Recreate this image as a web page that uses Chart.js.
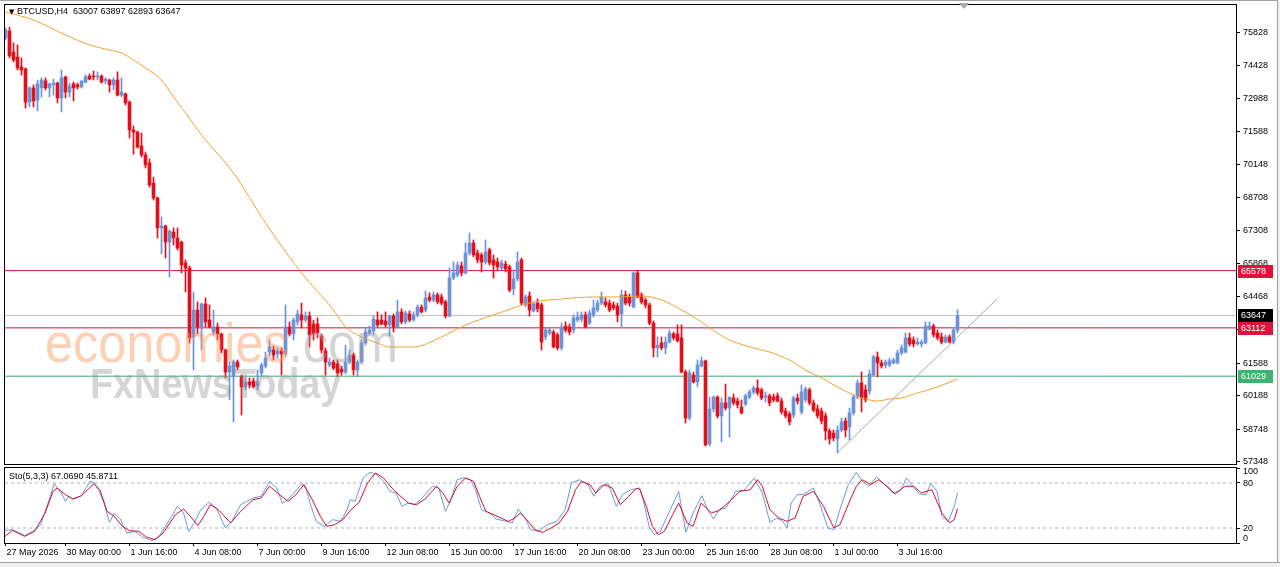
<!DOCTYPE html>
<html>
<head>
<meta charset="utf-8">
<script src="https://cdn.jsdelivr.net/npm/chart.js@4.4.0/dist/chart.umd.min.js"></script>
<style>
html, body { margin: 0; padding: 0; background: #fff; }
#wrap { position: relative; width: 1280px; height: 567px; overflow: hidden; background: #fff; font-family: "Liberation Sans", Arial, sans-serif; }
#main { position: absolute; left: 0; top: 0; z-index: 2; }
#sto { position: absolute; left: 0; top: 466px; z-index: 2; }
#title { position: absolute; left: 9px; top: 6px; font-size: 9px; color: #000; z-index: 4; white-space: pre; }
#title .tri { font-size: 7px; font-family: "DejaVu Sans", sans-serif; }
#stoLabel { position: absolute; left: 9px; top: 471px; font-size: 9px; color: #000; z-index: 4; }
#shift { position: absolute; left: 959px; top: 3px; width: 0; height: 0; border-left: 5px solid transparent; border-right: 5px solid transparent; border-top: 6px solid #a8a8a8; z-index: 4; }
.wm { position: absolute; z-index: 3; white-space: nowrap; transform-origin: left top; pointer-events: none; }
#wm1 { left: 45px; top: 315px; font-size: 56px; line-height: 56px; transform: scaleX(0.9); }
#wm1 .o { color: rgba(248, 150, 90, 0.45); }
#wm1 .g { color: rgba(160, 160, 160, 0.45); }
#wm2 { left: 90px; top: 363px; font-size: 42px; line-height: 42px; font-weight: bold; color: rgba(150, 150, 150, 0.40); transform: scaleX(0.9); }
#edgeR { position: absolute; left: 1277px; top: 0; width: 3px; height: 567px; background: #f0f0f0; border-left: 1px solid #a0a0a0; z-index: 5; }
#edgeB { position: absolute; left: 0; top: 562px; width: 1280px; height: 5px; background: #f0f0f0; border-top: 1px solid #a0a0a0; z-index: 5; }
#edgeT { position: absolute; left: 0; top: 0; width: 1280px; height: 1px; background: #a0a0a0; z-index: 5; }
</style>
</head>
<body>
<div id="wrap">
  <canvas id="main" width="1280" height="470"></canvas>
  <canvas id="sto" width="1280" height="101"></canvas>
  <div id="title"></div>
  <div id="stoLabel">Sto(5,3,3) 67.0690 45.8711</div>
  <div id="shift"></div>
  <div class="wm" id="wm1"><span class="o">economies</span><span class="g">.com</span></div>
  <div class="wm" id="wm2">FxNewsToday</div>
  <div id="edgeT"></div>
  <div id="edgeR"></div>
  <div id="edgeB"></div>
</div>
<script>
// BTCUSD H4 candles, one per bar (index 0 = 27 May 12:00)
const candleOpen = [
  75600,75900,75000,74780,74350,74270,72840,73450,72930,73450,
  73750,73450,73580,73660,73020,73920,73270,73620,73580,73490,
  73700,73960,73960,73920,73960,73750,73790,73580,73790,73140,
  73190,72840,71640,71550,70950,70560,70220,69350,68710,67420,
  67500,66810,67240,66980,66810,65910,65690,62720,63880,63150,
  64140,63450,62930,63150,62850,62160,61210,61000,61640,61000,
  60570,60780,60820,60610,61170,61470,62070,62160,61990,62120,
  61990,63150,62850,63370,63670,63450,63620,63280,63280,62760,
  62120,61510,61640,61560,61340,61210,61640,61940,61300,61640,
  62460,62890,62980,63450,63450,63410,63240,63620,63150,63800,
  63370,63710,63450,63670,64010,63880,64440,64310,64530,64440,
  64230,63620,65260,65390,65780,65480,66340,66770,66340,66250,
  65950,66470,66040,65950,65690,65860,65740,64790,65220,66040,
  64100,64490,63840,64180,64100,62720,62890,62930,62810,62250,
  63190,63150,63020,63450,63490,63670,63320,63670,63880,64180,
  64230,64180,64100,64050,63710,64530,64440,64010,65480,64530,
  64310,64100,63320,62250,62460,62250,62500,62850,62850,62680,
  61210,59230,61080,60780,61470,61690,58110,59620,60130,59320,
  59880,59660,60090,59960,59700,59830,60130,60350,60520,60440,
  60130,60180,60130,60180,59960,59530,59400,59360,60090,59490,
  60010,60440,59880,59620,59530,59320,58670,58580,58330,58710,
  59100,58840,59450,60130,60740,60440,60390,61080,61860,61600,
  61510,61510,61600,61600,62030,62070,62680,62590,62420,62420,
  62460,63060,63190,62890,62720,62500,62720,62500,63007
];
const candleHigh = [
  76030,76070,75390,75300,74740,74310,73490,73580,73790,73880,
  73880,73660,73830,73700,74220,73960,73660,73700,73660,73750,
  74010,74050,74180,74140,74010,73880,73830,73880,74140,73880,
  73230,72890,71810,71590,71510,70690,70390,69610,68750,67890,
  67540,67330,67420,67420,66850,66040,65780,64660,64230,64180,
  64400,64100,63880,63320,62890,62200,61640,61730,61730,61080,
  60950,60950,60950,61300,61600,62070,62590,62330,62250,62250,
  64100,63370,63540,63880,64180,63800,63800,63450,63540,62850,
  62250,61810,61730,61730,61470,62370,62160,62030,61730,62590,
  63110,63190,63620,63800,63670,63800,63670,63710,64310,63930,
  63840,63840,63800,64100,64100,64700,64620,64660,64620,64570,
  64310,65690,65950,65950,65950,66770,67200,66900,66470,66340,
  66900,66550,66250,66120,66040,65990,65820,65610,66380,66120,
  64530,64660,64230,64360,64180,63110,63110,63020,62890,63320,
  63370,63280,63670,63800,63800,63800,63880,64310,64310,64660,
  64400,64310,64230,64180,64740,64700,64570,65520,65560,64620,
  64400,64180,63410,62720,62720,62720,63020,62930,63240,63240,
  61300,61300,61210,61730,61860,61730,60130,60180,60180,60090,
  60690,60130,60260,60090,60010,60260,60440,60610,60870,60520,
  60350,60260,60260,60310,60090,59660,59490,60180,60260,60650,
  60570,60520,60010,59790,59660,59450,58760,58710,58890,59230,
  59230,59660,60220,60870,61210,60650,61300,61940,62070,61730,
  61730,61810,61810,62160,62370,62890,62890,62720,62680,62590,
  63370,63370,63280,63020,62890,62810,62810,63110,63897
];
const candleLow = [
  75510,74740,74570,74220,74010,72580,72630,72630,72460,73060,
  73360,73060,73140,72800,72410,73020,73060,72890,73400,73450,
  73660,73790,73790,73790,73660,73620,73270,73360,73100,73060,
  72710,71290,70600,70860,70470,70000,69180,68620,66980,66300,
  66120,65300,66680,66470,65480,64660,62460,61300,62850,62160,
  63150,63110,62810,62590,62030,60950,60010,59060,61300,59360,
  60440,60520,60520,60440,61040,61380,61900,61730,61810,61080,
  61900,62760,62590,63240,63110,63370,62290,62590,62680,62030,
  61080,61430,61300,61000,61080,61130,61560,61080,61000,61560,
  62370,62810,62810,63150,63240,63150,62760,62930,63110,63280,
  63280,63370,63410,63580,63750,63800,64230,64230,64140,64100,
  63540,63580,65180,65300,65350,65430,66250,66170,65910,65520,
  65860,65820,65260,65610,65610,65520,64660,64530,65130,64100,
  64010,63620,63800,63800,62160,62590,62810,62250,62160,62160,
  62930,62810,62890,63370,63370,63110,63240,63580,63800,64100,
  64010,63800,63880,63370,63150,64100,64050,63970,64400,64140,
  63970,63240,61860,61860,62160,61990,62460,62590,62500,61170,
  59010,59140,60740,60570,61430,58020,58020,59490,59230,58200,
  59570,58410,59790,59660,59400,59750,60050,60260,60220,60010,
  59920,59750,59920,59920,59400,59230,58930,59230,59830,59400,
  59920,59790,59490,59230,58970,58280,58110,58240,57720,58630,
  58410,58280,59360,60050,59490,59920,60260,61040,61000,61380,
  61380,61430,61560,61560,61940,62030,62330,62290,62370,62290,
  62420,63020,62720,62590,62420,62460,62460,62420,62893
];
const candleClose = [
  75950,74830,74650,74310,74220,72840,73450,72890,73620,73790,
  73450,73620,73660,73020,73880,73270,73530,73450,73490,73750,
  73920,73830,73920,73960,73700,73830,73580,73790,73140,73270,
  72800,71640,71550,70900,70560,70130,69270,68710,67420,67500,
  66810,67290,66980,66550,65820,65690,62680,63880,63150,64140,
  63370,63150,63150,62850,62160,61210,61470,61640,61430,60570,
  60780,60650,60570,60780,61510,61810,62290,61940,62120,61990,
  63150,62850,63450,63710,63450,63620,62810,62850,62890,62160,
  61640,61640,61380,61170,61210,61640,61940,61300,61640,62460,
  62930,63020,63490,63240,63280,63240,63620,63150,63800,63370,
  63750,63450,63670,64010,63800,64400,64310,64530,64230,64180,
  63620,65260,65480,65820,65480,66340,66770,66250,66040,65950,
  66380,65910,65820,65740,65910,65650,64740,65220,65950,64180,
  64440,63880,64140,63930,62500,63020,63020,62290,62250,63150,
  63020,62930,63540,63580,63670,63150,63750,63970,64180,64440,
  64100,63880,63970,63670,64530,64180,64180,65480,64440,64230,
  64100,63320,62250,62370,62250,62500,62890,62680,62550,61210,
  59230,61170,60780,61510,61690,58070,59620,60130,59320,59880,
  59660,60130,59880,59790,59450,60180,60350,60520,60310,60090,
  60180,59880,60010,59960,59490,59320,59060,60090,59960,60350,
  60480,59880,59570,59320,59100,58670,58330,58370,58710,59060,
  58710,59450,60130,60740,60090,60010,61130,61860,61600,61470,
  61640,61690,61730,62030,62250,62680,62420,62420,62500,62500,
  63190,63190,62810,62680,62500,62720,62500,63020,63647
];

// moving average, read at bar index / price
const maLine = [
  [0,76720],[7,76375],[15,75729],[21,75298],[26,75083],[29,74953],[32,74652],[35,74307],
  [39,73790],[42,73058],[45,72369],[49,71421],[57,69784],[65,67630],[74,65476],[82,63882],
  [85,63150],[89,62719],[93,62460],[96,62288],[102,62288],[109,62719],[115,63236],[122,63667],
  [127,63968],[132,64227],[139,64356],[147,64442],[154,64442],[159,64485],[164,64313],[169,63882],
  [174,63365],[176,63106],[181,62590],[188,62202],[191,62073],[196,61728],[200,61297],[204,60952],
  [208,60565],[212,60220],[215,60048],[218,59962],[221,60048],[224,60091],[228,60306],[233,60565],[238,60909]
];

// stochastic %K and %D, read at bar index / value
const stochK = [
  [-0.1,16.9],[1.7,17.8],[4.8,9.8],[6.8,15.6],[8.8,24.4],[10.9,57.8],[12.2,79.1],[13.9,66.7],[15.0,55.6],[15.8,62.2],
  [17.0,58.7],[19.0,63.1],[21.1,82.2],[22.1,80.9],[23.6,66.7],[24.6,53.3],[26.0,27.6],[27.2,40.0],[28.7,32.0],[30.3,13.3],
  [32.3,15.6],[34.3,8.0],[36.6,3.1],[38.4,8.9],[40.5,26.7],[43.0,48.9],[44.5,40.0],[45.8,15.6],[47.4,28.9],[48.8,44.4],
  [50.9,54.2],[52.7,46.7],[55.0,20.0],[56.6,28.9],[58.8,51.1],[61.9,60.0],[63.9,62.2],[66.0,82.2],[67.8,73.3],[69.2,53.3],
  [70.1,55.6],[72.1,66.7],[74.1,79.1],[75.2,71.1],[76.4,48.9],[77.7,28.9],[79.7,22.2],[81.8,31.1],[83.8,28.9],[85.4,44.4],
  [86.2,57.8],[87.4,55.6],[89.4,86.7],[91.0,94.2],[92.5,92.4],[94.5,82.2],[96.1,68.9],[97.6,66.7],[99.1,48.9],[100.7,53.3],
  [102.2,51.1],[103.7,57.8],[106.8,75.6],[108.3,73.3],[110.0,42.2],[111.4,57.8],[112.9,84.4],[114.4,86.7],[116.2,84.4],[117.5,71.1],
  [119.0,44.4],[121.1,40.0],[122.6,32.0],[125.2,28.9],[126.7,26.7],[128.2,45.3],[129.7,34.7],[131.3,17.8],[133.3,15.6],[135.4,24.4],
  [137.9,28.9],[139.9,44.4],[141.5,80.0],[143.5,84.4],[145.6,77.8],[147.1,62.2],[148.6,75.6],[150.7,79.1],[152.7,48.9],[154.2,64.4],
  [156.3,71.1],[158.6,73.3],[159.6,53.3],[160.9,22.2],[162.2,11.1],[163.7,15.6],[165.8,40.0],[168.3,68.9],[170.1,14.2],[171.9,40.0],
  [174.1,63.1],[175.5,44.4],[177.0,32.0],[178.5,45.3],[180.1,46.7],[182.6,68.9],[184.6,70.2],[187.2,86.7],[189.2,66.7],[191.1,27.6],
  [192.8,33.3],[194.3,28.9],[195.4,20.0],[196.4,53.3],[197.9,64.4],[199.4,64.4],[202.0,73.3],[203.5,53.3],[205.6,20.0],[207.1,17.8],
  [208.6,44.4],[210.7,77.8],[212.7,94.2],[214.2,82.2],[215.8,75.6],[217.8,88.0],[219.8,77.8],[221.9,66.7],[223.9,71.1],[225.2,86.7],
  [226.5,77.8],[228.5,65.3],[230.1,64.4],[231.3,79.1],[232.9,68.9],[234.1,35.6],[235.7,28.9],[237.2,48.9],[238,67.07]
];
const stochD = [
  [-0.1,8.9],[1.7,16.9],[4.8,8.9],[7.3,15.6],[9.9,40.0],[11.9,68.9],[12.9,73.3],[15.0,64.4],[16.8,58.7],[19.0,63.1],
  [22.1,79.1],[23.6,71.1],[25.4,42.2],[27.2,35.6],[29.2,22.2],[31.1,16.4],[33.3,15.6],[35.2,8.0],[37.4,4.4],[39.4,13.3],
  [42.5,37.8],[44.5,45.3],[46.6,33.3],[48.1,23.1],[49.6,35.6],[51.2,51.1],[53.2,44.4],[56.3,26.7],[58.8,42.2],[61.9,57.8],
  [63.9,60.0],[66.0,75.6],[68.0,66.7],[70.6,55.6],[72.6,64.4],[74.6,77.8],[76.7,57.8],[78.7,35.6],[80.3,22.2],[82.3,24.4],
  [84.3,31.1],[86.4,44.4],[88.4,54.2],[90.5,80.0],[92.5,93.3],[94.5,86.7],[96.6,73.3],[98.6,63.1],[100.7,53.3],[102.7,51.1],
  [104.7,57.8],[107.8,75.6],[109.3,66.7],[110.9,53.3],[112.9,75.6],[115.0,86.7],[117.0,82.2],[118.5,62.2],[120.1,42.2],[122.6,36.4],
  [125.7,28.9],[127.4,33.3],[128.7,40.0],[130.3,31.1],[132.3,17.8],[134.3,14.2],[136.4,20.0],[138.4,26.7],[140.5,42.2],[142.5,71.1],
  [144.0,82.2],[146.1,77.8],[147.6,66.7],[149.6,77.8],[151.7,73.3],[153.7,51.1],[155.8,62.2],[157.8,73.3],[158.6,71.1],[160.2,48.9],
  [161.7,22.2],[163.2,11.1],[164.7,15.6],[166.8,37.8],[168.3,53.3],[170.4,26.7],[171.9,22.2],[173.9,53.3],[176.5,40.0],[178.5,43.6],
  [181.1,55.6],[183.6,68.9],[186.2,71.1],[188.0,84.4],[189.2,75.6],[191.1,44.4],[193.3,33.3],[195.4,28.9],[197.4,33.3],[199.4,62.2],
  [202.0,68.9],[204.5,48.9],[207.1,20.0],[208.6,24.4],[211.2,57.8],[212.7,75.6],[214.2,84.4],[216.3,77.8],[218.3,84.4],[220.4,75.6],
  [222.4,65.3],[224.9,75.6],[227.0,75.6],[229.0,66.7],[231.6,71.1],[234.1,40.0],[236.0,26.7],[237.2,31.1],[238,45.87]
];

// drawn objects
const trendLine = [[207.9,57722],[247.9,64356]];
const levelValues = [65578, 63112, 61029];
const currentPrice = 63647;
const tagValues = [65578, 63647, 63112, 61029];
const priceTicks = [75828,74428,72988,71588,70148,68708,67308,65868,64468,63028,61588,60188,58748,57348];
const stochTicks = [0, 20, 80, 100];
const stochLevels = [20, 80];
const dateIdx = [0,15,31,47,63,79,95,111,127,143,159,175,191,207,223];
const dateLabels = ['27 May 2026','30 May 00:00','1 Jun 16:00','4 Jun 08:00','7 Jun 00:00','9 Jun 16:00',
  '12 Jun 08:00','15 Jun 00:00','17 Jun 16:00','20 Jun 08:00','23 Jun 00:00','25 Jun 16:00',
  '28 Jun 08:00','1 Jul 00:00','3 Jul 16:00'];

// styling
const UP = '#6a93d8', DOWN = '#e3101c';
const levelColors = ['#d01440', '#d01440', '#3aa874'];
const tagColors = ['#dc143c', '#000000', '#dc143c', '#3cb371'];
const X_MIN = -0.125, X_MAX = 307.625;
const FONT = '9px "Liberation Sans", Arial, sans-serif';

Chart.defaults.font.family = '"Liberation Sans", Arial, sans-serif';
Chart.defaults.font.size = 9;
Chart.defaults.color = '#000';

const last = candleClose.length - 1;
document.getElementById('title').innerHTML =
  '<span class="tri">\u25BC</span> BTCUSD,H4  ' +
  [candleOpen[last], candleHigh[last], candleLow[last], candleClose[last]].join(' ');

const isUp = i => candleClose[i] >= candleOpen[i];
const barColor = c => isUp(c.dataIndex) ? UP : DOWN;

// no extra room for half labels at the ends of the value axes
const fitAxis = s => { s.width = 44; s.paddingTop = 0; s.paddingBottom = 0; };

// black box around each plot area
const framePlugin = {
  id: 'frame',
  afterDraw(chart) {
    const a = chart.chartArea, ctx = chart.ctx;
    ctx.save();
    ctx.strokeStyle = '#000';
    ctx.lineWidth = 1;
    ctx.strokeRect(a.left - 0.5, a.top - 0.5, a.right - a.left + 1, a.bottom - a.top + 1);
    ctx.restore();
  }
};

// coloured price tags on the right axis
const tagPlugin = {
  id: 'tags',
  afterDraw(chart) {
    const { ctx, chartArea } = chart;
    const y = chart.scales.y;
    ctx.save();
    ctx.font = FONT;
    ctx.textBaseline = 'middle';
    tagValues.forEach((v, k) => {
      const py = Math.round(y.getPixelForValue(v));
      ctx.fillStyle = tagColors[k];
      ctx.fillRect(chartArea.right + 2, py - 6, 35, 13);
      ctx.fillStyle = '#fff';
      ctx.fillText(String(v), chartArea.right + 5, py + 1);
    });
    ctx.restore();
  }
};

// oscillator scale labels, the end ones pulled inside the panel
const stochLabelPlugin = {
  id: 'stochLabels',
  afterDraw(chart) {
    const { ctx, chartArea } = chart;
    const y = chart.scales.y;
    ctx.save();
    ctx.font = FONT;
    ctx.fillStyle = '#000';
    ctx.textBaseline = 'middle';
    stochTicks.forEach(v => {
      let py = y.getPixelForValue(v);
      if (v === 100) py += 3;
      if (v === 0) py -= 5;
      ctx.fillText(String(v), chartArea.right + 7, py + 0.5);
    });
    ctx.restore();
  }
};

const hLine = (v, color, width, dash) => ({
  type: 'line',
  data: [{ x: X_MIN, y: v }, { x: X_MAX, y: v }],
  borderColor: color, borderWidth: width || 1, borderDash: dash || [],
  pointRadius: 0, order: 6
});

const idx = candleOpen.map((_, i) => i);

new Chart(document.getElementById('main'), {
  type: 'bar',
  data: {
    datasets: [
      ...levelValues.map((v, k) => hLine(v, levelColors[k])),
      hLine(currentPrice, '#c0c0c0'),
      {
        type: 'line',
        data: trendLine.map(p => ({ x: p[0], y: p[1] })),
        borderColor: '#a8a8a8', borderWidth: 1, pointRadius: 0, order: 5
      },
      {
        label: 'wick',
        data: idx.map(i => ({ x: i, y: [candleLow[i], candleHigh[i]] })),
        backgroundColor: barColor, barThickness: 1, grouped: false, order: 3
      },
      {
        label: 'body',
        data: idx.map(i => ({ x: i, y: [candleOpen[i], candleClose[i]] })),
        backgroundColor: barColor, barThickness: 3, grouped: false, minBarLength: 1, order: 2
      },
      {
        type: 'line',
        data: maLine.map(p => ({ x: p[0], y: p[1] })),
        borderColor: '#f0a030', borderWidth: 1, pointRadius: 0,
        cubicInterpolationMode: 'monotone', order: 1
      }
    ]
  },
  options: {
    responsive: false,
    animation: false,
    events: [],
    layout: { padding: { left: 5, top: 5, right: 0, bottom: 6 } },
    plugins: { legend: { display: false }, tooltip: { enabled: false } },
    scales: {
      x: {
        type: 'linear', min: X_MIN, max: X_MAX, offset: false,
        display: false, grid: { offset: false }
      },
      y: {
        position: 'right', min: 57247, max: 77021,
        afterBuildTicks: s => { s.ticks = priceTicks.map(v => ({ value: v })); },
        afterFit: fitAxis,
        ticks: { callback: v => String(v), padding: 3, autoSkip: false, color: '#000' },
        grid: { drawOnChartArea: false, drawTicks: true, tickLength: 4, tickColor: '#000' },
        border: { display: false }
      }
    }
  },
  plugins: [framePlugin, tagPlugin]
});

new Chart(document.getElementById('sto'), {
  type: 'line',
  data: {
    datasets: [
      ...stochLevels.map(v => hLine(v, '#b4b4b4', 1, [3, 3])),
      {
        data: stochK.map(p => ({ x: p[0], y: p[1] })),
        borderColor: '#6f98d2', borderWidth: 1, pointRadius: 0, order: 2
      },
      {
        data: stochD.map(p => ({ x: p[0], y: p[1] })),
        borderColor: '#d3102c', borderWidth: 1, pointRadius: 0, order: 1
      }
    ]
  },
  options: {
    responsive: false,
    animation: false,
    events: [],
    layout: { padding: { left: 5, top: 2, right: 0, bottom: 0 } },
    plugins: { legend: { display: false }, tooltip: { enabled: false } },
    scales: {
      x: {
        type: 'linear', min: X_MIN, max: X_MAX,
        afterBuildTicks: s => { s.ticks = dateIdx.map(v => ({ value: v })); },
        afterFit: s => { s.height = 24; s.paddingLeft = 0; s.paddingRight = 0; },
        ticks: {
          callback: (v, i) => dateLabels[i], align: 'start', labelOffset: 1,
          maxRotation: 0, minRotation: 0, autoSkip: false, padding: 1, color: '#000'
        },
        grid: { drawOnChartArea: false, drawTicks: true, tickLength: 3, tickColor: '#000' },
        border: { display: false }
      },
      y: {
        position: 'right', min: 0, max: 100,
        afterBuildTicks: s => { s.ticks = stochTicks.map(v => ({ value: v })); },
        afterFit: fitAxis,
        ticks: { display: false },
        grid: { drawOnChartArea: false, drawTicks: true, tickLength: 4, tickColor: '#000' },
        border: { display: false }
      }
    }
  },
  plugins: [framePlugin, stochLabelPlugin]
});
</script>
</body>
</html>
